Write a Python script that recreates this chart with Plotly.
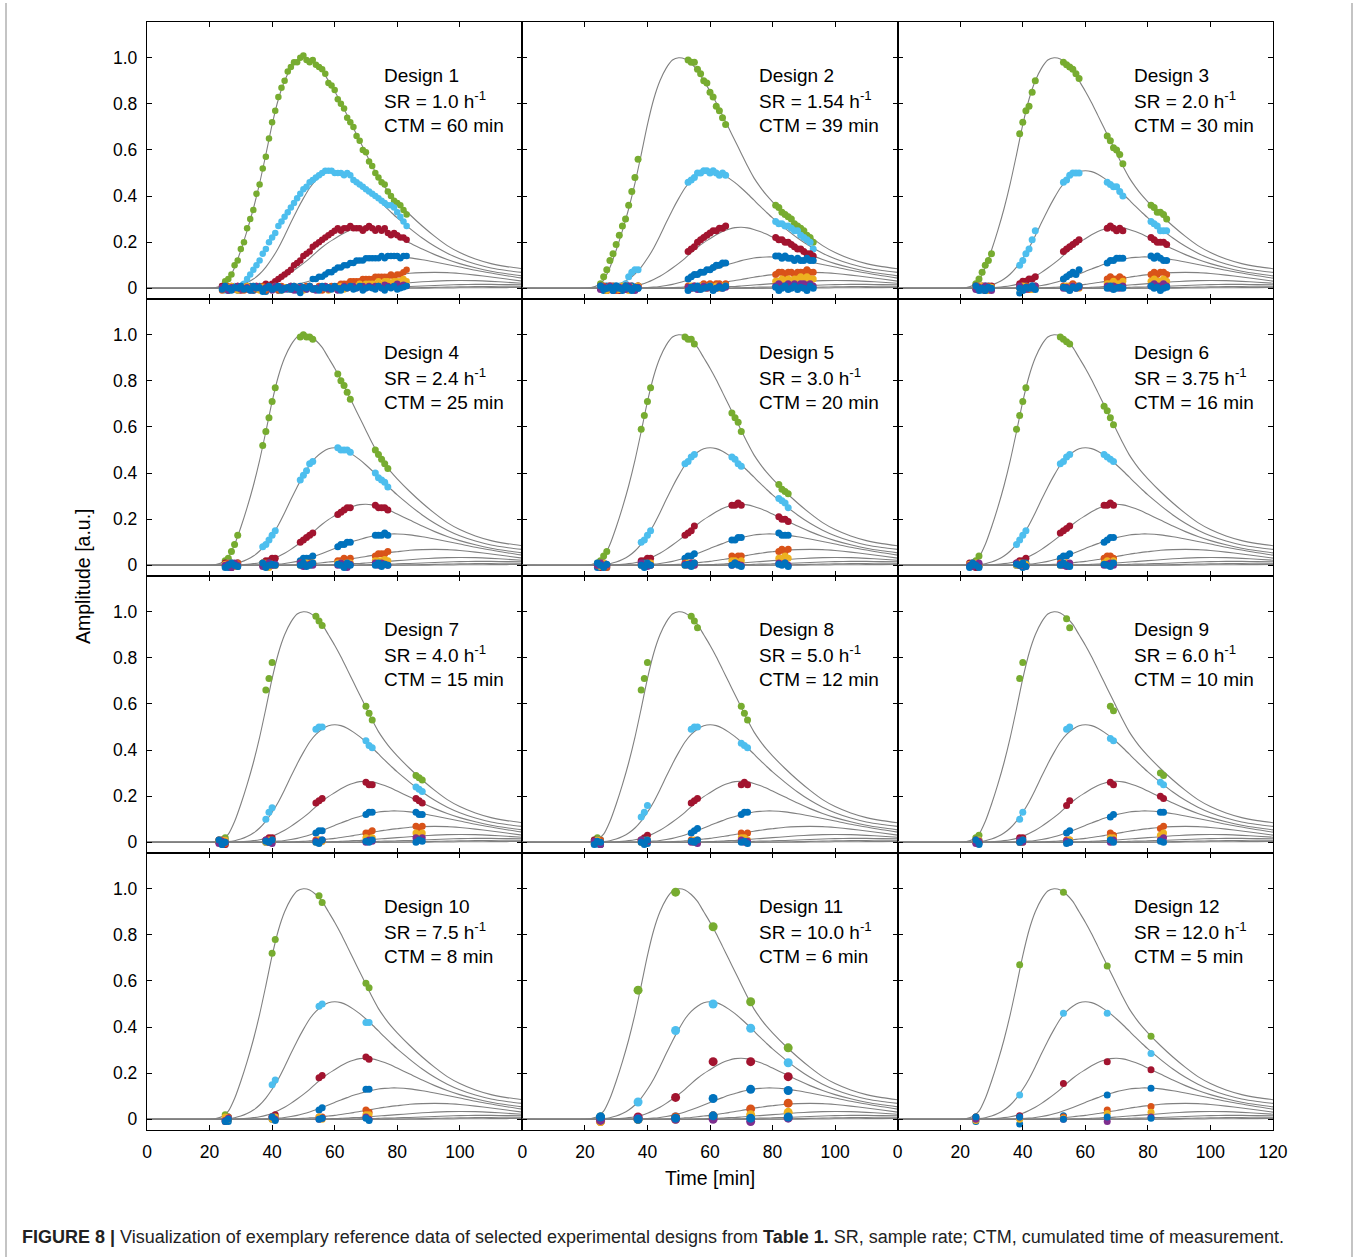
import plotly.graph_objects as go

# ---------------- model curves (grey) ----------------
X_GRID = [0, 20, 22, 24, 26, 28, 30, 32, 34, 36, 38, 40, 42, 44, 46, 48, 50, 52, 54, 56, 58, 60,
          62, 64, 66, 68, 70, 72, 74, 76, 78, 80, 84, 88, 92, 96, 100, 105, 110, 115, 120]
C1 = [0, 0, .003, .012, .035, .09, .165, .25, .345, .455, .58, .71, .82, .9, .955, .99, 1.0, .995, .975, .945,
      .9, .855, .805, .75, .695, .64, .585, .53, .48, .44, .405, .375, .32, .27, .225, .185, .155, .127, .107, .094, .085]
C2 = [0, 0, 0, .001, .003, .007, .014, .025, .04, .062, .092, .13, .175, .228, .285, .34, .39, .435, .468, .49,
      .505, .51, .506, .495, .478, .458, .435, .41, .383, .356, .33, .305, .26, .218, .182, .152, .128, .105, .088, .077, .069]
C3 = [0, 0, 0, 0, 0, .001, .002, .004, .007, .011, .017, .026, .038, .052, .069, .088, .108, .13, .155, .178,
      .198, .215, .232, .246, .256, .263, .265, .262, .255, .246, .235, .222, .196, .17, .146, .125, .107, .089, .074, .063, .054]
C4 = [0, 0, 0, 0, 0, 0, 0, 0, 0, .001, .002, .003, .005, .008, .012, .017, .024, .032, .041, .051,
      .062, .073, .084, .094, .104, .112, .12, .126, .131, .134, .136, .136, .132, .124, .114, .103, .092, .078, .066, .054, .044]
C5 = [0, 0, 0, 0, 0, 0, 0, 0, 0, 0, 0, 0, 0, .001, .002, .003, .004, .006, .008, .011,
      .014, .017, .021, .025, .029, .034, .038, .043, .048, .052, .056, .059, .065, .068, .069, .068, .064, .057, .049, .04, .031]
C6 = [0, 0, 0, 0, 0, 0, 0, 0, 0, 0, 0, 0, 0, 0, 0, 0, 0, 0, .001, .002,
      .002, .003, .004, .005, .007, .008, .01, .012, .014, .016, .018, .02, .024, .028, .031, .033, .034, .033, .03, .026, .022]
C7 = [0, 0, 0, 0, 0, 0, 0, 0, 0, 0, 0, 0, 0, 0, 0, 0, 0, 0, 0, 0,
      0, 0, 0, .001, .001, .002, .002, .003, .004, .005, .005, .006, .008, .01, .012, .014, .016, .017, .017, .016, .015]
C8 = [0, 0, 0, 0, 0, 0, 0, 0, 0, 0, 0, 0, 0, 0, 0, 0, 0, 0, 0, 0,
      0, 0, 0, 0, 0, 0, 0, 0, 0, 0, .001, .001, .002, .003, .004, .005, .006, .007, .008, .009, .009]
C9 = [0, 0, 0, 0, 0, 0, 0, 0, 0, 0, 0, 0, 0, 0, 0, 0, 0, 0, 0, 0,
      0, 0, 0, 0, 0, 0, 0, 0, 0, 0, 0, 0, 0, 0, .001, .001, .002, .002, .003, .003, .004]
CURVES = [C1, C2, C3, C4, C5, C6, C7, C8, C9]

# ---------------- measured data per design ----------------
# species order: green, light blue, dark red, blue, orange, yellow, purple, blue (minor)
T1 = [24, 25, 26, 27, 28, 29, 30, 31, 32, 33, 34, 35, 36, 37, 38, 39, 40, 41, 42, 43, 44, 45, 46, 47, 48, 49, 50, 51, 52, 53,
      54, 55, 56, 57, 58, 59, 60, 61, 62, 63, 64, 65, 66, 67, 68, 69, 70, 71, 72, 73, 74, 75, 76, 77, 78, 79, 80, 81, 82, 83]
G1 = [.01, .03, .04, .06, .1, .12, .17, .2, .26, .3, .34, .41, .45, .52, .57, .65, .72, .77, .83, .87, .9, .94, .96, .98, .98, 1.0, 1.01, .99, .98, .99,
      .97, .96, .95, .93, .89, .88, .86, .82, .8, .78, .74, .72, .7, .66, .64, .6, .59, .55, .53, .5, .48, .46, .45, .42, .4, .38, .37, .36, .34, .32]
L1 = [0, -.01, .01, 0, .01, 0, .01, .02, .04, .06, .08, .1, .12, .15, .17, .2, .22, .24, .27, .29, .31, .33, .35, .37, .39, .41, .43, .44, .46, .47,
      .48, .49, .5, .51, .51, .51, .5, .5, .5, .49, .5, .49, .47, .46, .45, .44, .43, .42, .41, .4, .39, .38, .37, .36, .36, .35, .33, .31, .29, .27]
R1 = [.01, 0, -.01, .01, 0, .01, -.01, 0, .01, 0, -.01, .01, 0, .01, .02, .01, .02, .03, .04, .05, .06, .07, .08, .1, .11, .12, .14, .15, .16, .18,
      .19, .2, .21, .22, .23, .24, .25, .26, .25, .26, .26, .27, .26, .26, .26, .25, .26, .27, .26, .25, .26, .25, .26, .24, .23, .24, .23, .22, .22, .21]
B1 = [0, .01, -.01, 0, .005, -.01, .01, 0, -.005, .01, -.01, 0, .01, 0, -.015, .005, 0, .01, -.01, 0, .005, -.005, .01, 0, -.01, .01, 0, -.005, .01,
      .04, .04, .05, .05, .06, .07, .07, .08, .09, .09, .1, .1, .11, .11, .12, .12, .12, .13, .13, .13, .13, .13, .14, .13, .14, .14, .14, .14, .13, .14, .14]
O1 = [-.01, 0, .01, 0, -.005, .01, 0, -.01, .005, 0, .01, -.005, 0, .01, -.01, 0, .005, 0, -.01, .01, 0, .005, -.005, .01, 0, -.01, 0, .01, .005, -.005,
      0, .01, -.01, 0, .005, .01, 0, .01, .02, .02, .02, .03, .03, .03, .03, .04, .04, .04, .04, .05, .05, .05, .05, .05, .06, .05, .06, .06, .07, .08]
Y1 = [0, .005, -.005, .01, 0, -.01, 0, .005, .01, -.005, 0, .01, -.01, .005, 0, 0, -.005, .01, 0, -.01, .005, 0, .01, -.005, 0, .005, -.01, 0, .01, 0,
      -.005, .005, 0, .01, -.01, 0, .005, 0, .01, -.005, 0, .005, .01, .01, .02, .01, .02, .02, .02, .02, .03, .02, .03, .03, .02, .03, .03, .03, .04, .03]
P1 = [.005, 0, -.01, .005, 0, .01, -.005, 0, .005, -.01, 0, .01, 0, -.005, .005, 0, -.01, .01, 0, .005, -.005, 0, .01, -.01, 0, .005, 0, -.005, .01, 0,
      -.01, .005, 0, .01, -.005, 0, .005, -.01, 0, .01, 0, .005, .01, 0, .005, .01, 0, .01, .005, .01, .01, 0, .015, .01, .005, .01, .02, .01, .015, .01]
N1 = [-.005, .01, 0, -.01, .005, 0, .01, -.005, 0, -.01, .01, 0, .005, -.015, 0, .01, -.005, 0, .01, -.01, 0, .005, -.005, .01, 0, -.02, .005, 0, .01, -.005,
      0, -.01, .01, 0, .005, -.005, .01, 0, -.01, .005, 0, .01, -.005, 0, .01, -.01, 0, .005, 0, -.005, .01, 0, -.01, .005, 0, .01, -.005, 0, .005, .01]

T2 = [25, 26, 27, 28, 29, 30, 31, 32, 33, 34, 35, 36, 37, 53, 54, 55, 56, 57, 58, 59, 60, 61, 62, 63, 64, 65,
      81, 82, 83, 84, 85, 86, 87, 88, 89, 90, 91, 92, 93]
G2 = [.02, .05, .08, .12, .15, .19, .23, .27, .3, .36, .42, .48, .56, .99, .98, .98, .95, .93, .9, .89, .85, .83, .79, .77, .74, .71,
      .36, .35, .33, .32, .31, .3, .28, .27, .26, .25, .23, .22, .2]
L2 = [0, .01, -.01, 0, .01, 0, .01, .01, .02, .05, .07, .08, .08, .46, .47, .48, .5, .5, .51, .51, .5, .51, .5, .49, .5, .49,
      .29, .28, .28, .27, .27, .26, .25, .25, .23, .22, .21, .2, .17]
R2 = [.01, 0, -.01, .01, 0, .005, -.01, 0, .01, 0, .01, -.005, .01, .16, .17, .18, .2, .21, .22, .23, .24, .25, .25, .26, .26, .27,
      .22, .21, .21, .2, .2, .19, .18, .17, .17, .16, .15, .15, .14]
B2 = [0, -.01, .01, 0, -.005, .01, 0, -.01, .005, 0, .01, -.005, 0, .04, .05, .06, .06, .07, .07, .08, .08, .09, .1, .1, .11, .11,
      .14, .14, .13, .14, .13, .13, .12, .13, .12, .12, .13, .12, .12]
O2 = [0, .01, -.005, 0, .01, -.01, 0, .005, 0, .01, -.005, 0, .01, .01, 0, .01, .005, .01, .02, .01, .02, .01, .02, .02, .01, .02,
      .06, .07, .07, .06, .07, .07, .06, .07, .07, .07, .08, .07, .07]
Y2 = [.005, 0, -.01, .01, 0, .005, -.005, .01, 0, -.01, .005, 0, .01, 0, .01, .005, 0, .01, .01, 0, .01, .005, .01, 0, .01, .01,
      .03, .03, .04, .03, .04, .03, .04, .04, .05, .04, .05, .04, .04]
P2 = [-.005, .005, 0, .01, -.01, 0, .005, 0, -.005, .01, 0, -.01, .005, .005, 0, .01, -.005, 0, .01, 0, .005, -.005, 0, .01, 0, .005,
      .01, .02, .01, .01, .02, .01, .02, .01, .02, .02, .01, .02, .01]
N2 = [.01, -.005, 0, .005, -.01, .01, 0, -.005, .01, 0, -.01, .005, 0, -.01, .005, 0, .01, -.005, 0, .005, .01, -.01, 0, .005, 0, .01,
      .005, -.01, 0, .01, -.005, 0, .01, -.005, .005, 0, -.01, .01, 0]

T3 = [25, 26, 27, 28, 29, 30, 39, 40, 41, 42, 43, 44, 53, 54, 55, 56, 57, 58, 67, 68, 69, 70, 71, 72, 81, 82, 83, 84, 85, 86]
G3 = [.02, .04, .07, .1, .12, .15, .67, .72, .77, .79, .85, .9, .98, .97, .96, .95, .93, .91, .66, .64, .61, .6, .58, .54, .36, .35, .33, .33, .32, .3]
L3 = [0, .01, -.01, 0, .01, 0, .1, .12, .15, .17, .21, .25, .46, .47, .49, .5, .5, .5, .46, .45, .44, .44, .42, .4, .29, .28, .27, .25, .25, .25]
R3 = [.01, 0, .01, -.01, 0, .01, .02, .03, .03, .04, .04, .05, .16, .17, .18, .19, .2, .21, .26, .27, .26, .25, .26, .25, .22, .21, .2, .2, .2, .19]
B3 = [0, -.01, .005, .01, 0, -.005, -.02, 0, .01, 0, .01, 0, .04, .05, .06, .07, .06, .08, .11, .12, .12, .13, .13, .13, .14, .13, .14, .13, .12, .12]
O3 = [0, .01, 0, -.005, .01, 0, .005, 0, .01, -.005, 0, .01, .01, 0, .01, .02, .01, .01, .04, .05, .04, .04, .05, .04, .06, .07, .06, .07, .07, .06]
Y3 = [.005, 0, .01, 0, -.01, .005, 0, .01, 0, .005, -.005, 0, .005, .01, 0, .01, .005, 0, .02, .02, .03, .02, .02, .03, .03, .04, .03, .03, .04, .03]
P3 = [-.005, .005, 0, .01, 0, -.01, .01, 0, -.005, .005, 0, .01, 0, .005, -.005, .01, 0, .005, .01, 0, .01, .005, 0, .01, .01, .02, .01, .01, .02, .01]
N3 = [.01, -.005, 0, -.01, .005, 0, 0, -.01, .005, 0, .01, -.005, .005, 0, -.01, .005, 0, .01, 0, .01, -.005, 0, .005, 0, .01, 0, .005, -.01, 0, .005]

T4 = [25, 26, 27, 28, 29, 37, 38, 39, 40, 41, 49, 50, 51, 52, 53, 61, 62, 63, 64, 65, 73, 74, 75, 76, 77]
G4 = [.02, .03, .06, .09, .13, .52, .58, .64, .71, .77, .99, 1.0, .99, .99, .98, .83, .8, .78, .75, .72, .5, .48, .46, .44, .42]
L4 = [0, .01, -.01, 0, .01, .08, .09, .11, .13, .15, .37, .39, .41, .44, .45, .51, .5, .5, .5, .49, .4, .38, .37, .36, .34]
R4 = [.01, 0, -.01, 0, .01, .01, .02, .02, .03, .03, .1, .11, .12, .13, .14, .22, .23, .24, .25, .25, .26, .25, .25, .25, .24]
B4 = [0, -.01, .01, 0, -.005, 0, .005, .01, 0, .005, .02, .03, .03, .03, .04, .08, .09, .09, .1, .1, .13, .13, .13, .14, .13]
O4 = [0, .01, 0, -.005, .01, 0, .01, 0, .005, 0, .01, 0, .005, .01, .01, .02, .02, .03, .02, .03, .04, .05, .05, .05, .06]
Y4 = [.005, 0, .01, -.005, 0, .01, 0, -.01, .005, 0, 0, .005, .01, 0, .01, .01, .01, .005, .01, .01, .02, .02, .02, .025, .02]
P4 = [0, .005, -.01, .01, 0, -.005, 0, .01, 0, .005, .01, -.005, 0, .005, 0, 0, .01, 0, -.01, .005, .01, 0, .01, .005, 0]
N4 = [-.01, 0, .01, 0, -.005, .01, -.01, 0, .005, 0, 0, .01, -.005, 0, .01, .005, 0, -.01, .01, 0, 0, .01, -.005, .005, 0]

T5 = [24, 25, 26, 27, 38, 39, 40, 41, 52, 53, 54, 55, 67, 68, 69, 70, 82, 83, 84, 85]
G5 = [.01, .02, .04, .06, .59, .65, .71, .77, .99, .98, .98, .96, .66, .64, .62, .58, .35, .33, .32, .31]
L5 = [0, .01, 0, -.01, .1, .11, .13, .15, .44, .45, .47, .48, .47, .46, .44, .43, .29, .28, .27, .25]
R5 = [0, -.01, .01, 0, .02, .02, .03, .03, .13, .14, .15, .17, .26, .26, .27, .26, .21, .2, .2, .19]
B5 = [-.01, 0, .01, 0, 0, .01, 0, .005, .03, .04, .04, .05, .11, .11, .12, .12, .14, .13, .13, .13]
O5 = [0, .01, 0, -.01, .005, 0, .01, 0, .01, .005, .01, .01, .04, .03, .04, .04, .06, .07, .06, .07]
Y5 = [.005, -.005, .01, 0, 0, .005, 0, .01, 0, .01, .005, 0, .02, .02, .01, .02, .03, .03, .04, .03]
P5 = [0, .01, -.005, 0, .01, 0, -.005, 0, .005, 0, .01, 0, 0, .01, .005, 0, .01, .005, .01, 0]
N5 = [.01, 0, -.01, .005, 0, -.01, .01, 0, 0, .005, -.005, .01, 0, .01, 0, -.005, .005, 0, .01, -.005]

T6 = [23, 24, 25, 26, 38, 39, 40, 41, 52, 53, 54, 55, 66, 67, 68, 69]
G6 = [0, .01, .02, .04, .59, .65, .71, .77, .99, .98, .97, .96, .69, .67, .64, .61]
L6 = [0, .01, -.01, 0, .09, .11, .13, .15, .44, .45, .47, .48, .48, .47, .46, .45]
R6 = [.01, 0, -.01, .005, .01, .02, .02, .03, .14, .15, .16, .17, .26, .26, .27, .26]
B6 = [-.01, 0, .005, 0, 0, .005, -.01, .01, .03, .04, .04, .05, .1, .11, .12, .12]
O6 = [0, .01, 0, -.005, .005, 0, .01, 0, .01, 0, .01, .005, .03, .04, .04, .03]
Y6 = [.005, 0, .01, 0, 0, .01, 0, .005, 0, .005, .01, 0, .01, .02, .01, .02]
P6 = [0, -.005, .005, .01, .01, 0, 0, -.005, .005, 0, -.005, .01, 0, .005, .01, 0]
N6 = [-.005, .01, 0, -.01, .005, 0, .01, -.005, 0, .01, 0, -.005, .005, 0, -.005, .01]

T7 = [23, 24, 25, 38, 39, 40, 54, 55, 56, 70, 71, 72, 86, 87, 88]
G7 = [.01, .01, .02, .66, .71, .78, .98, .96, .94, .59, .56, .53, .29, .28, .27]
L7 = [0, .01, -.01, .1, .13, .15, .49, .5, .5, .44, .42, .41, .24, .23, .22]
R7 = [.01, 0, -.01, .01, .02, .02, .17, .18, .19, .26, .25, .25, .19, .18, .17]
B7 = [0, -.01, .01, 0, .005, .01, .04, .05, .05, .12, .13, .13, .13, .12, .12]
O7 = [0, .01, -.005, .005, 0, .01, .01, .01, .005, .04, .04, .05, .07, .06, .07]
Y7 = [.005, 0, .01, 0, .01, 0, 0, .01, .005, .02, .01, .02, .04, .03, .04]
P7 = [-.005, .005, 0, .01, 0, -.005, .005, 0, .01, 0, .01, .005, .02, .01, .02]
N7 = [.01, -.01, 0, .005, 0, .01, 0, -.005, .01, .005, 0, .01, 0, .01, .005]

T8 = [23, 24, 25, 38, 39, 40, 54, 55, 56, 70, 71, 72]
G8 = [.01, .02, .01, .66, .71, .78, .98, .96, .93, .59, .56, .53]
L8 = [0, -.01, .01, .11, .13, .16, .49, .5, .5, .43, .42, .41]
R8 = [.01, 0, -.01, .01, .02, .03, .17, .18, .19, .25, .26, .25]
B8 = [0, .01, -.01, 0, .01, -.005, .04, .05, .06, .12, .13, .13]
O8 = [-.005, 0, .01, .01, 0, .005, .01, 0, .01, .04, .03, .04]
Y8 = [0, .01, -.005, 0, .005, .01, .005, .01, 0, .02, .02, .01]
P8 = [.005, 0, -.01, .01, 0, .005, 0, .005, -.005, .01, 0, .005]
N8 = [-.01, .005, 0, 0, -.01, .01, .005, 0, .01, 0, .005, -.005]

T9 = [25, 26, 39, 40, 54, 55, 68, 69, 84, 85]
G9 = [.02, .03, .71, .78, .97, .93, .59, .57, .3, .29]
L9 = [0, .01, .1, .13, .49, .5, .45, .44, .26, .25]
R9 = [.01, 0, .02, .02, .16, .18, .26, .25, .2, .19]
B9 = [0, -.01, 0, .01, .04, .05, .11, .12, .13, .13]
O9 = [.005, 0, 0, .01, .01, .01, .04, .03, .06, .07]
Y9 = [0, .01, .005, 0, 0, .01, .02, .02, .03, .04]
P9 = [-.005, .005, .01, 0, .005, 0, 0, .01, .01, .02]
N9 = [.01, -.005, 0, .01, -.005, 0, .01, 0, .005, 0]

T10 = [25, 26, 40, 41, 55, 56, 70, 71]
G10 = [.02, .01, .72, .78, .97, .94, .59, .57]
L10 = [0, .01, .15, .17, .49, .5, .42, .42]
R10 = [-.01, 0, .01, .02, .18, .19, .27, .26]
B10 = [0, -.01, 0, .01, .04, .05, .13, .13]
O10 = [0, .01, .01, 0, .01, .01, .04, .03]
Y10 = [.01, 0, 0, .01, .01, 0, .02, .02]
P10 = [-.005, .005, .01, 0, 0, .005, .01, 0]
N10 = [-.01, 0, .01, -.005, 0, .005, .005, -.005]

T11 = [25, 37, 49, 61, 73, 85]
G11 = [.01, .56, .985, .835, .51, .31]
L11 = [0, .075, .385, .5, .395, .245]
R11 = [0, .01, .095, .25, .25, .185]
B11 = [.01, 0, .01, .09, .13, .125]
O11 = [-.01, 0, .01, .015, .045, .07]
Y11 = [-.01, 0, 0, .01, .02, .03]
P11 = [-.005, .005, 0, 0, -.01, .005]
N11 = [.01, 0, .005, .015, .005, .01]

T12 = [25, 39, 53, 67, 81]
G12 = [.01, .67, .985, .665, .36]
L12 = [.005, .105, .46, .46, .285]
R12 = [.01, .015, .155, .25, .215]
B12 = [-.01, -.02, .015, .105, .135]
O12 = [0, .005, .01, .04, .055]
Y12 = [-.005, 0, .005, .025, .03]
P12 = [0, .01, 0, -.01, .01]
N12 = [.01, .01, 0, .01, .005]

SR_LABELS = ['1.0', '1.54', '2.0', '2.4', '3.0', '3.75', '4.0', '5.0', '6.0', '7.5', '10.0', '12.0']
CTM_LABELS = ['60', '39', '30', '25', '20', '16', '15', '12', '10', '8', '6', '5']
SPECIES_COLORS = ['#77AC30', '#4DBEEE', '#A2142F', '#0072BD', '#D95319', '#EDB120', '#7E2F8E', '#0072BD']
MARKER_SIZES = [6.5, 7, 7, 7, 7, 7, 7, 7, 7, 7, 9, 7]

DESIGNS = [
    (T1, [G1, L1, R1, B1, O1, Y1, P1, N1]),
    (T2, [G2, L2, R2, B2, O2, Y2, P2, N2]),
    (T3, [G3, L3, R3, B3, O3, Y3, P3, N3]),
    (T4, [G4, L4, R4, B4, O4, Y4, P4, N4]),
    (T5, [G5, L5, R5, B5, O5, Y5, P5, N5]),
    (T6, [G6, L6, R6, B6, O6, Y6, P6, N6]),
    (T7, [G7, L7, R7, B7, O7, Y7, P7, N7]),
    (T8, [G8, L8, R8, B8, O8, Y8, P8, N8]),
    (T9, [G9, L9, R9, B9, O9, Y9, P9, N9]),
    (T10, [G10, L10, R10, B10, O10, Y10, P10, N10]),
    (T11, [G11, L11, R11, B11, O11, Y11, P11, N11]),
    (T12, [G12, L12, R12, B12, O12, Y12, P12, N12]),
]

# ---------------- figure ----------------
FONT = 'Liberation Sans, Arial, Helvetica, sans-serif'
W, H = 1360, 1257
ML, MR, MT, MB = 147, 87, 22, 127
PW, PH = W - ML - MR, H - MT - MB
PLOT_BOTTOM = H - MB  # 1130 px

fig = go.Figure()
layout = dict(width=W, height=H, margin=dict(l=ML, r=MR, t=MT, b=MB),
              plot_bgcolor='white', paper_bgcolor='white', showlegend=False,
              font=dict(family=FONT, color='black', size=17))
annotations = []

for p, (tt, series) in enumerate(DESIGNS):
    r, c = divmod(p, 3)
    sfx = '' if p == 0 else str(p + 1)
    xa, ya = 'x' + sfx, 'y' + sfx
    for cv in CURVES:
        assert len(cv) == len(X_GRID)
        fig.add_trace(go.Scatter(x=X_GRID, y=cv, mode='lines', xaxis=xa, yaxis=ya,
                                 line=dict(color='#808080', width=1.1, shape='spline', smoothing=0.7),
                                 hoverinfo='skip', showlegend=False))
    for s, vals in enumerate(series):
        assert len(vals) == len(tt), ('design', p + 1, 'species', s, len(vals), len(tt))
        fig.add_trace(go.Scatter(x=tt, y=vals, mode='markers', xaxis=xa, yaxis=ya,
                                 marker=dict(color=SPECIES_COLORS[s], size=MARKER_SIZES[p], line=dict(width=0)),
                                 showlegend=False))
    bottom = (r == 3)
    xticks = [0, 20, 40, 60, 80, 100] + ([120] if c == 2 else [])
    layout['xaxis' + sfx] = dict(
        domain=[c / 3, (c + 1) / 3], range=[0, 120], anchor=ya,
        showline=True, linecolor='black', linewidth=1.3, mirror='ticks',
        ticks='inside', ticklen=5, tickwidth=1, tickcolor='black',
        tickvals=xticks, ticktext=[str(v) for v in xticks],
        showticklabels=bottom, ticklabelstandoff=6,
        showgrid=False, zeroline=False, tickfont=dict(size=17.5, family=FONT, color='black'))
    layout['yaxis' + sfx] = dict(
        domain=[(3 - r) / 4, (4 - r) / 4], range=[-0.0465, 1.155], anchor=xa,
        showline=True, linecolor='black', linewidth=1.3, mirror='ticks',
        ticks='inside', ticklen=5, tickwidth=1, tickcolor='black',
        tickvals=[0, 0.2, 0.4, 0.6, 0.8, 1.0], ticktext=['0', '0.2', '0.4', '0.6', '0.8', '1.0'],
        showticklabels=(c == 0), ticklabelstandoff=5,
        showgrid=False, zeroline=False, tickfont=dict(size=17.5, family=FONT, color='black'))
    for txt, yv in [('Design %d' % (p + 1), 0.921),
                    ('SR = %s h<sup>-1</sup>' % SR_LABELS[p], 0.816),
                    ('CTM = %s min' % CTM_LABELS[p], 0.708)]:
        annotations.append(dict(x=75.0, y=yv, xref=xa, yref=ya, text=txt, showarrow=False,
                                xanchor='left', yanchor='middle',
                                font=dict(size=19, family=FONT, color='black')))

annotations.append(dict(x=0.5, y=(PLOT_BOTTOM - 1178) / PH, xref='paper', yref='paper', text='Time [min]',
                        showarrow=False, xanchor='center', yanchor='middle',
                        font=dict(size=19.5, family=FONT, color='black')))
annotations.append(dict(x=(83 - ML) / PW, y=0.5, xref='paper', yref='paper', text='Amplitude [a.u.]',
                        showarrow=False, textangle=-90, xanchor='center', yanchor='middle',
                        font=dict(size=19.5, family=FONT, color='black')))
annotations.append(dict(x=(20 - ML) / PW, y=(PLOT_BOTTOM - 1237) / PH, xref='paper', yref='paper',
                        text='<b>FIGURE 8 |</b> Visualization of exemplary reference data of selected experimental designs from <b>Table 1.</b> SR, sample rate; CTM, cumulated time of measurement.',
                        showarrow=False, xanchor='left', yanchor='middle',
                        font=dict(size=18, family=FONT, color='#222222')))
layout['annotations'] = annotations

shapes = []
for px in (6, 1352):
    shapes.append(dict(type='line', xref='paper', yref='paper',
                       x0=(px - ML) / PW, x1=(px - ML) / PW, y0=(PLOT_BOTTOM - 3) / PH, y1=(PLOT_BOTTOM - 1257) / PH,
                       line=dict(color='#b0b0b0', width=1.5)))
layout['shapes'] = shapes

fig.update_layout(**layout)
fig.write_html('out.html')
